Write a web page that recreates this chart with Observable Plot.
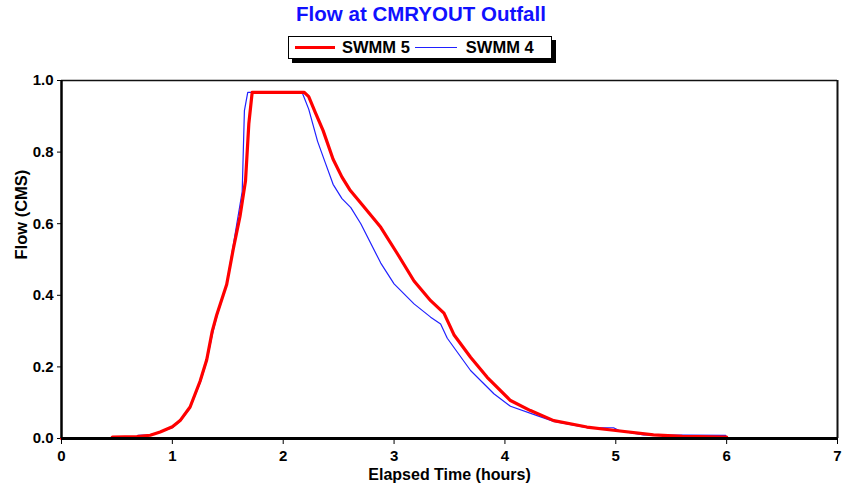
<!DOCTYPE html>
<html>
<head>
<meta charset="utf-8">
<script src="https://cdn.jsdelivr.net/npm/d3@7"></script>
<script src="https://cdn.jsdelivr.net/npm/@observablehq/plot@0.6"></script>
<style>
  html, body { margin: 0; padding: 0; background: #fff; }
  body { width: 842px; height: 491px; overflow: hidden; font-family: "Liberation Sans", Arial, sans-serif; position: relative; }
  #title { position: absolute; left: 0; width: 842px; top: 2px; text-align: center; color: #1010ff; font-weight: bold; font-size: 20.5px; }
  #legend { position: absolute; left: 288px; top: 36px; width: 262px; height: 21px; border: 1px solid #000; background: #fff; box-shadow: 4px 4px 0 #000; display: flex; align-items: center; font-weight: bold; font-size: 16.5px; color: #000; }
  .sw { display: inline-block; width: 40px; margin-left: 6px; margin-right: 7px; }
  #chart { position: absolute; left: 0; top: 64px; }
</style>
</head>
<body>
<div id="title">Flow at CMRYOUT Outfall</div>
<div id="legend">
  <span class="sw" style="border-top:3px solid #ff0000;"></span><span>SWMM 5</span>
  <span class="sw" style="border-top:1px solid #2020ff; margin-left:5px; margin-right:9px; width:42px;"></span><span>SWMM 4</span>
</div>
<div id="chart"></div>
<script>
const seriesNames = ["SWMM 5", "SWMM 4"];
const xTicks = [0, 1, 2, 3, 4, 5, 6, 7];
const yTicks = [0, 0.2, 0.4, 0.6, 0.8, 1.0];
const xLabel = "Elapsed Time (hours)";
const yLabel = "Flow (CMS)";

// SWMM 5 : [hours, flow CMS]
const swmm5 = [
  [0,0],[0.45,0],[0.46,0.004],[0.68,0.005],[0.8,0.009],[0.89,0.018],[1.0,0.033],
  [1.07,0.05],[1.16,0.088],[1.25,0.16],[1.31,0.22],[1.36,0.30],[1.40,0.345],
  [1.49,0.43],[1.55,0.53],[1.61,0.62],[1.66,0.72],[1.69,0.88],[1.72,0.967],
  [2.19,0.967],[2.23,0.955],[2.29,0.91],[2.36,0.86],[2.45,0.78],[2.53,0.73],
  [2.6,0.695],[2.72,0.65],[2.88,0.59],[3.03,0.516],[3.18,0.44],[3.33,0.385],
  [3.45,0.35],[3.54,0.29],[3.69,0.227],[3.84,0.171],[4.05,0.106],[4.23,0.078],
  [4.44,0.05],[4.74,0.032],[4.98,0.023],[5.34,0.01],[5.6,0.006],[6.0,0.004]
];
// SWMM 4 : [hours, flow CMS]
const swmm4 = [
  [0.68,0],[0.69,0.009],[0.8,0.01],[0.89,0.018],[1.0,0.03],[1.07,0.048],
  [1.16,0.085],[1.25,0.155],[1.31,0.215],[1.36,0.29],[1.40,0.34],[1.49,0.43],
  [1.56,0.56],[1.63,0.69],[1.65,0.916],[1.68,0.967],[2.17,0.967],[2.23,0.92],
  [2.31,0.83],[2.38,0.77],[2.45,0.71],[2.53,0.67],[2.61,0.645],[2.70,0.6],
  [2.88,0.49],[3.0,0.432],[3.18,0.376],[3.33,0.339],[3.42,0.32],[3.48,0.28],
  [3.69,0.19],[3.90,0.125],[4.05,0.09],[4.29,0.064],[4.44,0.048],[4.74,0.03],
  [4.98,0.03],[5.04,0.021],[5.25,0.01],[5.99,0.009],[6.0,0]
];

const chart = Plot.plot({
  width: 842,
  height: 427,
  marginLeft: 61,
  marginRight: 5,
  marginTop: 16,
  marginBottom: 53,
  style: { fontFamily: "'Liberation Sans', Arial, sans-serif", fontWeight: "bold", fontSize: "15px", color: "#000", background: "#fff" },
  x: { domain: [0, 7] },
  y: { domain: [0, 1] },
  marks: [
    Plot.axisX({ ticks: xTicks, tickFormat: d3.format("d"), tickSize: 6, tickPadding: 6, fontSize: 15, fontWeight: "bold", label: null }),
    Plot.axisY({ ticks: yTicks, tickFormat: d3.format(".1f"), tickSize: 4, tickPadding: 4, fontSize: 15, fontWeight: "bold", label: null }),
    Plot.text([xLabel], { text: d => d, frameAnchor: "bottom", dy: 41, fontSize: 16, fontWeight: "bold", fill: "#000" }),
    Plot.text([yLabel], { text: d => d, frameAnchor: "left", dx: -40, rotate: -90, fontSize: 16.5, fontWeight: "bold", fill: "#000" }),
    Plot.line(swmm4, { x: d => d[0], y: d => d[1], stroke: "#2020ff", strokeWidth: 1.2 }),
    Plot.line(swmm5, { x: d => d[0], y: d => d[1], stroke: "#ff0000", strokeWidth: 3.2 }),
    Plot.ruleY([1], { stroke: "#111", strokeWidth: 1.5 }),
    Plot.ruleX([7], { stroke: "#111", strokeWidth: 2 }),
    Plot.ruleX([0], { stroke: "#000", strokeWidth: 2.5 }),
    Plot.ruleY([0], { stroke: "#000", strokeWidth: 3 })
  ]
});
document.getElementById("chart").appendChild(chart);
</script>
</body>
</html>
